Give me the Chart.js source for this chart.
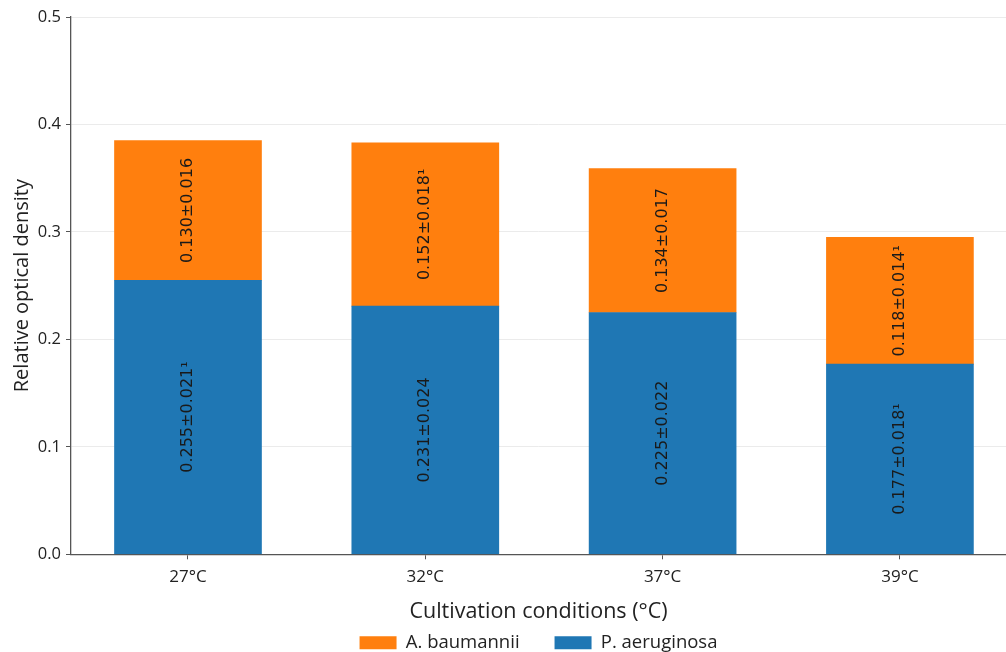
<!DOCTYPE html>
<html>
<head>
<meta charset="utf-8">
<script src="https://cdn.jsdelivr.net/npm/chart.js@4.4.1/dist/chart.umd.min.js"></script>
<style>
  html, body { margin: 0; padding: 0; background: #fff; overflow: hidden; }
  #wrap { width: 1006px; height: 652px; }
</style>
</head>
<body>
<div id="wrap"><canvas id="chart"></canvas></div>
<script>
// categories and values
const conditions = ['27°C', '32°C', '37°C', '39°C'];
const paeruginosa = [0.255, 0.231, 0.225, 0.177];
const paeruginosaErr = [0.021, 0.024, 0.022, 0.018];
const paeruginosaMark = ['¹', '', '', '¹'];
const abaumannii = [0.130, 0.152, 0.134, 0.118];
const abaumanniiErr = [0.016, 0.018, 0.017, 0.014];
const abaumanniiMark = ['', '¹', '', '¹'];
const yTicks = [0.0, 0.1, 0.2, 0.3, 0.4, 0.5];

const blue = '#1f77b4';
const orange = '#ff7f0e';
const font = 'Open Sans';
const labelFont = 'DejaVu Sans';

const toPoints = vals => vals.map((v, i) => ({ x: i, y: v }));
const makeLabels = (vals, errs, marks) =>
  vals.map((v, i) => v.toFixed(3) + '±' + errs[i].toFixed(3) + marks[i]);

//draw the value text rotated inside each bar segment
const segmentLabels = {
  id: 'segmentLabels',
  afterDatasetsDraw(chart) {
    const ctx = chart.ctx;
    chart.data.datasets.forEach((ds, i) => {
      const meta = chart.getDatasetMeta(i);
      meta.data.forEach((bar, j) => {
        const cy = (bar.y + bar.base) / 2;
        ctx.save();
        ctx.translate(bar.x, cy);
        ctx.rotate(-Math.PI / 2);
        ctx.font = '16px "' + labelFont + '"';
        ctx.fillStyle = '#1a1a1a';
        ctx.textAlign = 'center';
        ctx.textBaseline = 'middle';
        ctx.fillText(ds.segLabels[j], 0, 0);
        ctx.restore();
      });
    });
  }
};

//center the legend under the plot area instead of the whole canvas
const legendShift = {
  id: 'legendShift',
  afterLayout(chart) {
    const lg = chart.legend;
    const shift = (chart.chartArea.left + chart.chartArea.right) / 2 - (lg.left + lg.right) / 2;
    lg.left += shift;
    lg.right += shift;
  }
};

const chartData = {
  datasets: [
    {
      label: 'P. aeruginosa',
      data: toPoints(paeruginosa),
      segLabels: makeLabels(paeruginosa, paeruginosaErr, paeruginosaMark),
      backgroundColor: blue,
      borderWidth: 0,
      barThickness: 147,
    },
    {
      label: 'A. baumannii',
      data: toPoints(abaumannii),
      segLabels: makeLabels(abaumannii, abaumanniiErr, abaumanniiMark),
      backgroundColor: orange,
      borderWidth: 0,
      barThickness: 147,
    },
  ],
};

new Chart(document.getElementById('chart'), {
  type: 'bar',
  data: chartData,
  plugins: [segmentLabels, legendShift],
  options: {
    responsive: true,
    maintainAspectRatio: false,
    animation: false,
    layout: { padding: { top: 17, right: 0, bottom: -10, left: 0 } },
    plugins: {
      tooltip: { enabled: false },
      legend: {
        position: 'bottom',
        reverse: true,
        labels: {
          boxWidth: 37,
          boxHeight: 13,
          padding: 35,
          color: '#222',
          font: { family: font, size: 18.5 },
        },
      },
    },
    scales: {
      x: {
        type: 'linear',
        stacked: true,
        offset: false,
        min: -0.493,
        max: 3.447,
        afterBuildTicks: scale => {
          scale.ticks = conditions.map((c, i) => ({ value: i }));
        },
        ticks: {
          color: '#222',
          font: { family: font, size: 17 },
          padding: 8,
          maxRotation: 0,
          callback: v => conditions[v],
        },
        grid: { offset: false, drawOnChartArea: false, tickLength: 5, tickColor: '#555' },
        border: { color: '#555', width: 1.3 },
        title: {
          display: true,
          text: 'Cultivation conditions (°C)',
          color: '#222',
          font: { family: font, size: 21.5 },
          padding: { top: 3, bottom: -26 },
        },
      },
      y: {
        stacked: true,
        min: 0,
        max: 0.5,
        afterBuildTicks: scale => {
          scale.ticks = yTicks.map(v => ({ value: v }));
        },
        afterFit: scale => { scale.width = 71; },
        ticks: {
          color: '#222',
          font: { family: font, size: 16.5 },
          padding: 5,
          callback: v => v.toFixed(1),
        },
        grid: { color: '#ebebeb', lineWidth: 1, tickLength: 5, tickColor: '#555' },
        border: { color: '#555', width: 1.3 },
        title: {
          display: true,
          text: 'Relative optical density',
          color: '#222',
          font: { family: font, size: 20 },
          padding: { top: 10, bottom: 0 },
        },
      },
    },
  },
});
</script>
</body>
</html>
